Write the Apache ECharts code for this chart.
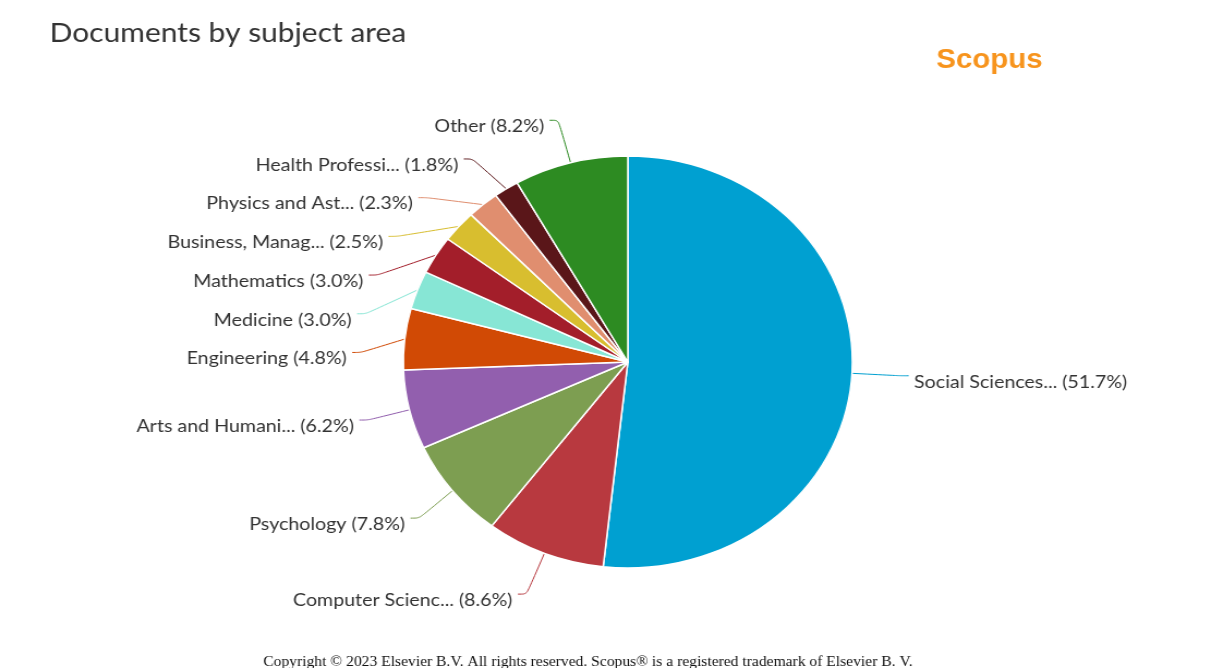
<!DOCTYPE html>
<html>
<head>
<meta charset="utf-8">
<script src="https://cdn.jsdelivr.net/npm/echarts@6/dist/echarts.min.js"></script>
<style>
html,body{margin:0;padding:0;background:#fff;overflow:hidden;}
#wrap{width:1214px;height:668px;overflow:hidden;}
#chart{width:1114px;height:668px;transform:scaleX(1.09);transform-origin:0 0;}
</style>
</head>
<body>
<div id="wrap"><div id="chart"></div></div>
<script>
const categories = ["Social Sciences...", "Computer Scienc...", "Psychology", "Arts and Humani...", "Engineering", "Medicine", "Mathematics", "Business, Manag...", "Physics and Ast...", "Health Professi...", "Other"];
const values = [51.7, 8.6, 7.8, 6.2, 4.8, 3.0, 3.0, 2.5, 2.3, 1.8, 8.2];
const colors = ["#00A0D1", "#B8393F", "#7D9E51", "#925FAE", "#D14A05", "#87E6D5", "#A31E2A", "#D8BE2F", "#E08E6F", "#5A1619", "#2D8B22"];

const chart = echarts.init(document.getElementById('chart'), null, {renderer: 'canvas'});
const data = categories.map((c, i) => ({name: c, value: values[i], itemStyle: {color: colors[i]}}));

chart.setOption({
  animation: false,
  backgroundColor: '#fff',
  title: [{
    text: 'Documents by subject area',
    left: 40.5, top: 14,
    textStyle: {fontFamily: 'Lato', fontWeight: 'normal', fontSize: 27.5, color: '#333'}
  }, {
    text: 'Scopus',
    left: 854, top: 42,
    textStyle: {fontFamily: 'Liberation Sans', fontWeight: 'bold', fontSize: 27, color: '#F7941D'}
  }, {
    text: 'Copyright \u00a9 2023 Elsevier B.V. All rights reserved. Scopus\u00ae is a registered trademark of Elsevier B. V.',
    left: 236.5, top: 650,
    textStyle: {fontFamily: 'Liberation Serif', fontWeight: 'normal', fontSize: 14.3, color: '#111'}
  }],
  series: [{
    type: 'pie',
    center: [576, 362],
    radius: 206,
    startAngle: 90,
    clockwise: true,
    data: data,
    itemStyle: {borderColor: '#fff', borderWidth: 1.5},
    label: {
      show: true,
      position: 'outside',
      formatter: p => p.name + ' (' + p.value.toFixed(1) + '%)',
      fontFamily: 'Lato',
      fontSize: 18,
      lineHeight: 36.7,
      color: '#333'
    },
    labelLayout: {dy: 6},
    labelLine: {show: true, length: 44, length2: 8, smooth: 0.3, lineStyle: {width: 1}},
    emphasis: {disabled: true}
  }]
});
</script>
</body>
</html>
